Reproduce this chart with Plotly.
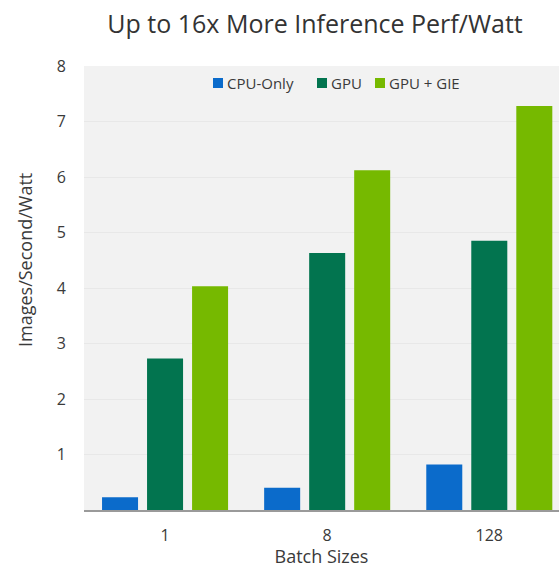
import plotly.graph_objects as go

categories = ["1", "8", "128"]
cpu_only = [0.23, 0.40, 0.82]
gpu = [2.73, 4.63, 4.85]
gpu_gie = [4.03, 6.12, 7.28]
series_names = ["CPU-Only", "GPU", "GPU + GIE"]
y_ticks = [1, 2, 3, 4, 5, 6, 7, 8]

colors = ["#0b6bcb", "#02744f", "#76b900"]
FONT = "Open Sans"
TXT = "#3a3a3a"

W, H = 559, 568
L, R, T, B = 84, 0, 66, 58
PW, PH = W - L - R, H - T - B

def px(xp):
    return (xp - L) / PW

def py(yp):
    return (H - B - yp) / PH

fig = go.Figure()
for name, vals, col in zip(series_names, [cpu_only, gpu, gpu_gie], colors):
    fig.add_trace(go.Bar(x=categories, y=vals, name=name, marker_color=col,
                         marker_line_width=0, showlegend=False))

fig.update_layout(
    width=W, height=H,
    margin=dict(l=L, r=R, t=T, b=B),
    paper_bgcolor="white",
    plot_bgcolor="#f2f2f2",
    barmode="group",
    bargap=0.167,
    bargroupgap=0.2,
    font=dict(family=FONT, color=TXT),
    title=dict(text="Up to 16x More Inference Perf/Watt", x=px(315), xref="paper",
               xanchor="center", y=1 - 24 / H, yanchor="middle",
               font=dict(size=25, color="#333333", family=FONT)),
)
fig.update_xaxes(type="category", range=[-0.5, 2.43], showgrid=False,
                 showline=True, linecolor="#9a9a9a", linewidth=1.5,
                 ticks="outside", ticklen=10, tickcolor="rgba(0,0,0,0)",
                 tickfont=dict(size=16, color=TXT),
                 title=dict(text="Batch Sizes", font=dict(size=18, color=TXT), standoff=2))
fig.update_yaxes(range=[0, 8], tickvals=y_ticks, showgrid=True, gridcolor="#e8e8e8",
                 gridwidth=1, zeroline=False, showline=False,
                 ticks="outside", ticklen=14, tickcolor="rgba(0,0,0,0)",
                 tickfont=dict(size=16, color=TXT))
fig.add_annotation(text="Images/Second/Watt", xref="paper", yref="paper",
                   x=px(25), y=py(260), xanchor="center", yanchor="middle",
                   textangle=-90, showarrow=False, font=dict(size=18, color=TXT))

# legend: coloured squares + labels
legend_sq_x = [213, 317, 375]
for name, col, sx in zip(series_names, colors, legend_sq_x):
    fig.add_shape(type="rect", xref="paper", yref="paper",
                  x0=px(sx), x1=px(sx + 10), y0=py(88), y1=py(78),
                  fillcolor=col, line_width=0)
    fig.add_annotation(text=name, xref="paper", yref="paper",
                       x=px(sx + 12), y=py(83), xanchor="left", yanchor="middle",
                       showarrow=False, font=dict(size=15, color=TXT))

fig.write_html("out.html")
